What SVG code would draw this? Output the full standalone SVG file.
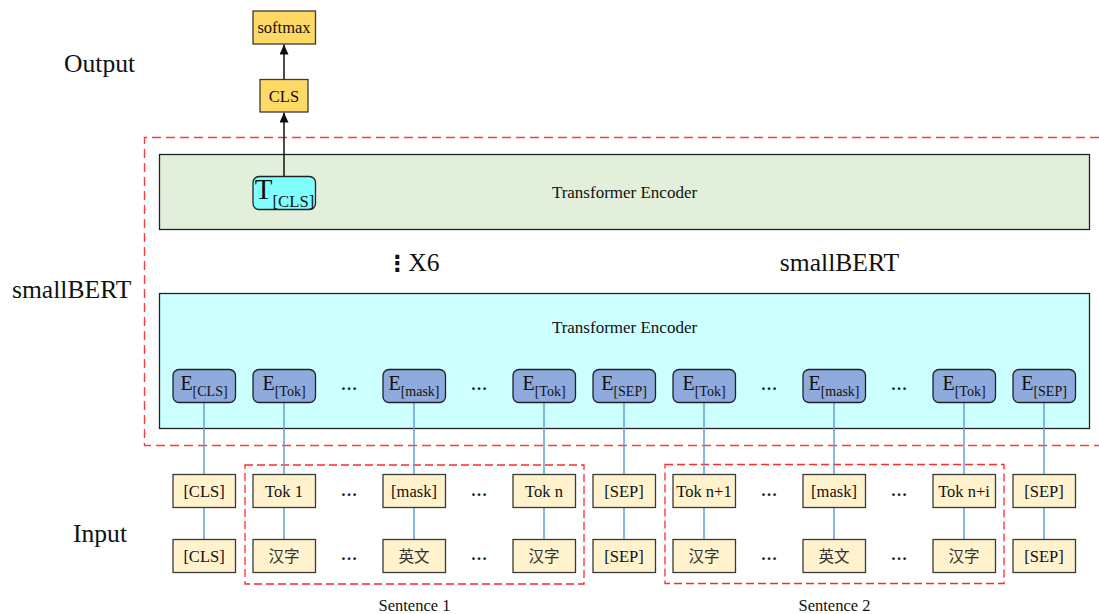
<svg xmlns="http://www.w3.org/2000/svg" width="1099" height="614" viewBox="0 0 1099 614">
  <style>
    text { font-family: "Liberation Serif", "Times New Roman", "Noto Sans CJK SC", serif; fill: #111; }
    .label { font-size: 25.6px; }
    .enc { font-size: 17px; text-anchor: middle; }
    .box-gold { fill: #ffd966; stroke: #3a3a3a; stroke-width: 1.3; }
    .tok { fill: #fff2cc; stroke: #3a3a3a; stroke-width: 1.3; }
    .emb { fill: #8faadc; stroke: #222; stroke-width: 1.3; }
    .t16 { font-size: 16.5px; text-anchor: middle; }
    .cjk { font-family: "Noto Sans CJK SC", "Liberation Serif", sans-serif; font-size: 15.5px; text-anchor: middle; fill: #333; }
    .emb-text { font-size: 20px; text-anchor: middle; }
    .sub { font-size: 14px; }
    .dots { font-size: 16.5px; font-weight: bold; text-anchor: middle; }
    .link { stroke: #5b9bd5; stroke-width: 1.4; fill: none; }
    .frame { fill: none; stroke: #ff3b3b; stroke-width: 1.4; stroke-dasharray: 9 5; }
    .seq { fill: none; stroke: #ff2a2a; stroke-width: 1.3; stroke-dasharray: 8 4; }
    .arrow { stroke: #111; stroke-width: 1.5; fill: none; marker-end: url(#head); }
  </style>
  <defs>
    <marker id="head" viewBox="0 0 10 10" refX="10" refY="5" markerWidth="10" markerHeight="9" markerUnits="userSpaceOnUse" orient="auto" preserveAspectRatio="none">
      <path d="M0,0 L10,5 L0,10 z" fill="#111"/>
    </marker>
  </defs>

  <!-- side labels -->
  <text class="label" x="64" y="72">Output</text>
  <text class="label" x="12" y="298">smallBERT</text>
  <text class="label" x="73" y="542">Input</text>

  <!-- smallBERT frame (open on the right) -->
  <path class="frame" d="M1099,137.5 H144.5 V445.5 H1099"/>

  <!-- sentence frames -->
  <rect class="seq" x="245" y="465" width="339" height="119"/>
  <rect class="seq" x="665" y="464.5" width="339" height="119"/>
  <text class="t16" x="414.5" y="611">Sentence 1</text>
  <text class="t16" x="834.5" y="611">Sentence 2</text>

  <!-- encoder layers -->
  <g id="encoder-top">
    <rect x="159.5" y="154.5" width="930" height="75" fill="#e2efda" stroke="#222" stroke-width="1.3"/>
    <text class="enc" x="624.5" y="197.5">Transformer Encoder</text>
  </g>
  <g id="encoder-bottom">
    <rect x="159.5" y="293.5" width="930" height="135" fill="#ccffff" stroke="#222" stroke-width="1.3"/>
    <text class="enc" x="624.5" y="333">Transformer Encoder</text>
  </g>

  <g id="repeat">
    <text class="label" x="413" y="271" text-anchor="middle"><tspan font-family="DejaVu Sans, sans-serif" font-weight="bold" font-size="22px">⋮</tspan>X6</text>
    <text class="label" x="839.5" y="271" text-anchor="middle">smallBERT</text>
  </g>

  <!-- connectors -->
  <g id="connectors">
    <line class="arrow" x1="284" y1="176" x2="284" y2="112.5"/>
    <line class="arrow" x1="284" y1="79.5" x2="284" y2="44.5"/>
    <path class="link" d="M204,402.5 V474.5 M204,507.5 V539.5
                          M284,402.5 V474.5 M284,507.5 V539.5
                          M414,402.5 V474.5 M414,507.5 V539.5
                          M544,402.5 V474.5 M544,507.5 V539.5
                          M624,402.5 V474.5 M624,507.5 V539.5
                          M704,402.5 V474.5 M704,507.5 V539.5
                          M834,402.5 V474.5 M834,507.5 V539.5
                          M964,402.5 V474.5 M964,507.5 V539.5
                          M1044,402.5 V474.5 M1044,507.5 V539.5"/>
  </g>

  <!-- output head -->
  <g id="softmax">
    <rect class="box-gold" x="253" y="11" width="62.5" height="33"/>
    <text class="t16" x="284" y="33">softmax</text>
  </g>
  <g id="cls-out">
    <rect class="box-gold" x="260" y="79.5" width="48" height="32.5"/>
    <text class="t16" x="284" y="101.5">CLS</text>
  </g>
  <g id="t-cls">
    <rect x="253" y="176.5" width="62.5" height="33" rx="6" fill="#80ffff" stroke="#222" stroke-width="1.3"/>
    <text x="284.5" y="199" text-anchor="middle" font-size="29px">T<tspan font-size="16.7px" dy="8">[CLS]</tspan></text>
  </g>

  <!-- embeddings -->
  <g id="emb-cls"><rect class="emb" x="173" y="369.5" width="62.5" height="33" rx="6"/><text class="emb-text" x="204" y="390">E<tspan class="sub" dy="6">[CLS]</tspan></text></g>
  <g id="emb-tok1"><rect class="emb" x="253" y="369.5" width="62.5" height="33" rx="6"/><text class="emb-text" x="284" y="390">E<tspan class="sub" dy="6">[Tok]</tspan></text></g>
  <g id="emb-mask1"><rect class="emb" x="383" y="369.5" width="62.5" height="33" rx="6"/><text class="emb-text" x="414" y="390">E<tspan class="sub" dy="6">[mask]</tspan></text></g>
  <g id="emb-tokn"><rect class="emb" x="513" y="369.5" width="62.5" height="33" rx="6"/><text class="emb-text" x="544" y="390">E<tspan class="sub" dy="6">[Tok]</tspan></text></g>
  <g id="emb-sep1"><rect class="emb" x="593" y="369.5" width="62.5" height="33" rx="6"/><text class="emb-text" x="624" y="390">E<tspan class="sub" dy="6">[SEP]</tspan></text></g>
  <g id="emb-tokn1"><rect class="emb" x="673" y="369.5" width="62.5" height="33" rx="6"/><text class="emb-text" x="704" y="390">E<tspan class="sub" dy="6">[Tok]</tspan></text></g>
  <g id="emb-mask2"><rect class="emb" x="803" y="369.5" width="62.5" height="33" rx="6"/><text class="emb-text" x="834" y="390">E<tspan class="sub" dy="6">[mask]</tspan></text></g>
  <g id="emb-tokni"><rect class="emb" x="933" y="369.5" width="62.5" height="33" rx="6"/><text class="emb-text" x="964" y="390">E<tspan class="sub" dy="6">[Tok]</tspan></text></g>
  <g id="emb-sep2"><rect class="emb" x="1013" y="369.5" width="62.5" height="33" rx="6"/><text class="emb-text" x="1044" y="390">E<tspan class="sub" dy="6">[SEP]</tspan></text></g>

  <!-- ellipses between columns -->
  <g id="ellipses">
    <text class="dots" x="349" y="390">…</text><text class="dots" x="479" y="390">…</text>
    <text class="dots" x="769" y="390">…</text><text class="dots" x="899" y="390">…</text>
    <text class="dots" x="349" y="496">…</text><text class="dots" x="479" y="496">…</text>
    <text class="dots" x="769" y="496">…</text><text class="dots" x="899" y="496">…</text>
    <text class="dots" x="349" y="560">…</text><text class="dots" x="479" y="560">…</text>
    <text class="dots" x="769" y="560">…</text><text class="dots" x="899" y="560">…</text>
  </g>

  <!-- tokens -->
  <g id="tok-cls"><rect class="tok" x="173" y="474.5" width="62.5" height="33"/><text class="t16" x="204" y="497">[CLS]</text></g>
  <g id="tok-1"><rect class="tok" x="253" y="474.5" width="62.5" height="33"/><text class="t16" x="284" y="497">Tok 1</text></g>
  <g id="tok-mask1"><rect class="tok" x="383" y="474.5" width="62.5" height="33"/><text class="t16" x="414" y="497">[mask]</text></g>
  <g id="tok-n"><rect class="tok" x="513" y="474.5" width="62.5" height="33"/><text class="t16" x="544" y="497">Tok n</text></g>
  <g id="tok-sep1"><rect class="tok" x="593" y="474.5" width="62.5" height="33"/><text class="t16" x="624" y="497">[SEP]</text></g>
  <g id="tok-n1"><rect class="tok" x="673" y="474.5" width="62.5" height="33"/><text class="t16" x="704" y="497">Tok n+1</text></g>
  <g id="tok-mask2"><rect class="tok" x="803" y="474.5" width="62.5" height="33"/><text class="t16" x="834" y="497">[mask]</text></g>
  <g id="tok-ni"><rect class="tok" x="933" y="474.5" width="62.5" height="33"/><text class="t16" x="964" y="497">Tok n+i</text></g>
  <g id="tok-sep2"><rect class="tok" x="1013" y="474.5" width="62.5" height="33"/><text class="t16" x="1044" y="497">[SEP]</text></g>

  <!-- raw input -->
  <g id="in-cls"><rect class="tok" x="173" y="539.5" width="62.5" height="33"/><text class="t16" x="204" y="562">[CLS]</text></g>
  <g id="in-1"><rect class="tok" x="253" y="539.5" width="62.5" height="33"/><text class="cjk" x="284" y="561.5">汉字</text></g>
  <g id="in-mask1"><rect class="tok" x="383" y="539.5" width="62.5" height="33"/><text class="cjk" x="414" y="561.5">英文</text></g>
  <g id="in-n"><rect class="tok" x="513" y="539.5" width="62.5" height="33"/><text class="cjk" x="544" y="561.5">汉字</text></g>
  <g id="in-sep1"><rect class="tok" x="593" y="539.5" width="62.5" height="33"/><text class="t16" x="624" y="562">[SEP]</text></g>
  <g id="in-n1"><rect class="tok" x="673" y="539.5" width="62.5" height="33"/><text class="cjk" x="704" y="561.5">汉字</text></g>
  <g id="in-mask2"><rect class="tok" x="803" y="539.5" width="62.5" height="33"/><text class="cjk" x="834" y="561.5">英文</text></g>
  <g id="in-ni"><rect class="tok" x="933" y="539.5" width="62.5" height="33"/><text class="cjk" x="964" y="561.5">汉字</text></g>
  <g id="in-sep2"><rect class="tok" x="1013" y="539.5" width="62.5" height="33"/><text class="t16" x="1044" y="562">[SEP]</text></g>
</svg>
